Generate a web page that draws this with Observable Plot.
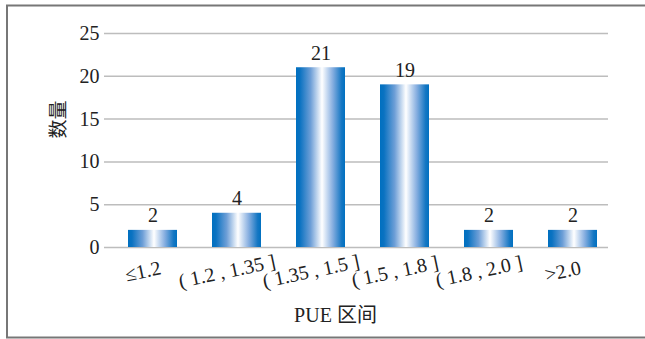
<!DOCTYPE html>
<html>
<head>
<meta charset="utf-8">
<script src="https://cdn.jsdelivr.net/npm/d3@7"></script>
<script src="https://cdn.jsdelivr.net/npm/@observablehq/plot@0.6"></script>
<style>
  html, body { margin: 0; padding: 0; background: #fff; }
  #chart svg { display: block; }
</style>
</head>
<body>
<div id="chart"></div>
<script>
const categories = ["≤1.2", "( 1.2 , 1.35 ]", "( 1.35 , 1.5 ]", "( 1.5 , 1.8 ]", "( 1.8 , 2.0 ]", ">2.0"];
const counts = [2, 4, 21, 19, 2, 2];
const yTicks = [0, 5, 10, 15, 20, 25];
const xTitle = "PUE 区间";
const yTitle = "数量";

const data = categories.map((c, i) => ({ cat: c, n: counts[i] }));
const FONT = "'Liberation Serif', 'Noto Sans CJK SC', serif";

const defs = () => {
  const g = d3.create("svg:defs");
  const lg = g.append("linearGradient").attr("id", "barGrad").attr("x1", "0").attr("x2", "1").attr("y1", "0").attr("y2", "0");
  [[0, "#0070c0"], [0.08, "#0a72c1"], [0.3, "#6e9fd7"], [0.53, "#ffffff"], [0.75, "#86aee0"], [0.93, "#1577c3"], [1, "#0070c0"]]
    .forEach(([o, c]) => lg.append("stop").attr("offset", o).attr("stop-color", c));
  return g.node();
};

const border = () => d3.create("svg:rect")
  .attr("x", 7).attr("y", 5.5).attr("width", 700).attr("height", 332)
  .attr("fill", "none").attr("stroke", "#777").attr("stroke-width", 2).node();

const chart = Plot.plot({
  width: 645,
  height: 339,
  marginLeft: 104,
  marginRight: 37,
  marginTop: 33,
  marginBottom: 92,
  style: { fontFamily: FONT, fontSize: "20px", color: "#222", background: "#fff" },
  x: { type: "band", domain: categories, range: [107.6, 616.4], paddingInner: 0.42, paddingOuter: 0.21, axis: null },
  y: { domain: [0, 25], axis: null },
  marks: [
    defs,
    border,
    Plot.gridY(yTicks, { stroke: "#bdbdbd", strokeOpacity: 1, strokeWidth: 1.5 }),
    Plot.axisY(yTicks, { tickSize: 0, tickPadding: 5, fontSize: 20, label: null, fill: "#222" }),
    Plot.barY(data, { x: "cat", y: "n", fill: "url(#barGrad)" }),
    Plot.text(data, { x: "cat", y: "n", text: d => String(d.n), lineAnchor: "bottom", dy: -8, fontSize: 20, fill: "#222" }),
    Plot.text(data, { x: "cat", text: "cat", frameAnchor: "bottom", lineAnchor: "middle", textAnchor: "middle", rotate: -12, dy: 24, dx: -10, fontSize: 20, fill: "#222" }),
    Plot.text([xTitle], { frameAnchor: "bottom", lineAnchor: "bottom", textAnchor: "middle", dy: 74, dx: -21, fontSize: 20, fill: "#222" }),
    Plot.text([yTitle], { frameAnchor: "left", lineAnchor: "middle", textAnchor: "middle", rotate: -90, dx: -46, dy: -21, fontSize: 19, fill: "#222" })
  ]
});
document.getElementById("chart").appendChild(chart);
</script>
</body>
</html>
